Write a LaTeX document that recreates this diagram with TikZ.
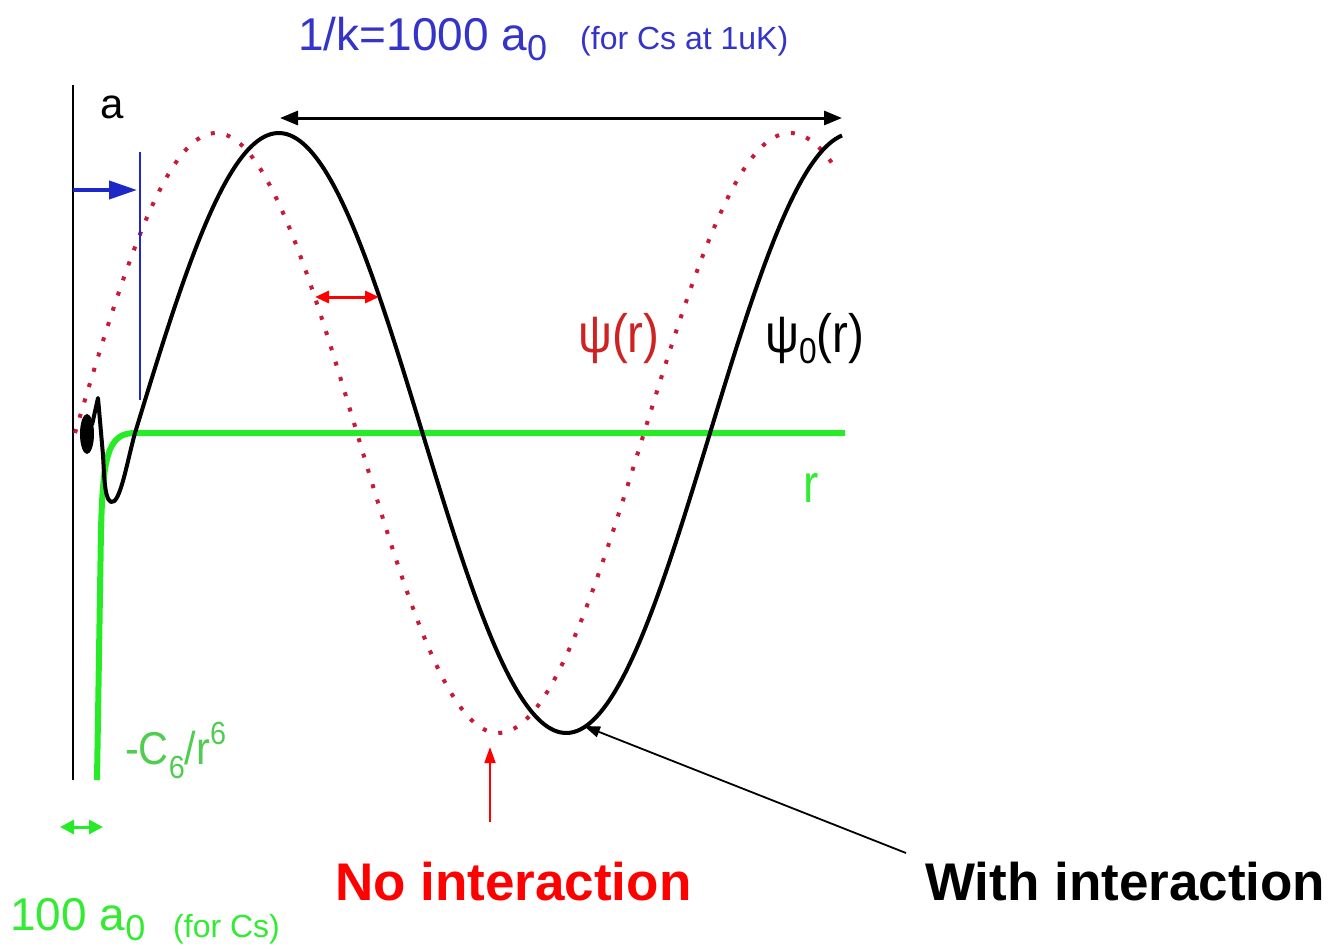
\documentclass[tikz,border=0pt]{standalone}
\usepackage{fontspec}
\setmainfont{Liberation Sans}
\usetikzlibrary{arrows.meta}
\definecolor{kblue}{RGB}{52,52,200}
\definecolor{lblue}{RGB}{30,40,200}
\definecolor{bgreen}{RGB}{40,235,40}
\definecolor{tgreen}{RGB}{50,235,50}
\definecolor{cgreen}{RGB}{80,205,80}
\definecolor{dred}{RGB}{200,25,55}
\definecolor{pred}{RGB}{205,35,35}
\tikzset{
  lbl/.style={inner sep=0pt, anchor=base west},
  psi0/.style={black, line width=4pt, line join=round},
  psidot/.style={dred, line width=4pt, dash pattern=on 4pt off 12pt},
  pot/.style={bgreen, line width=6pt, line join=round},
  dim/.style={line width=3pt, {Triangle[length=18pt,width=14pt]}-{Triangle[length=18pt,width=14pt]}},
  pointer/.style={line width=1.8pt, -{Triangle[length=16pt,width=11pt]}},
}
\newcommand{\fs}[1]{\fontsize{#1}{#1}\selectfont}
\begin{document}
\begin{tikzpicture}[x=1pt, y=-1pt]
\useasboundingbox (0,0) rectangle (1330,948);
% axis
\coordinate (axtop) at (73,85);
\coordinate (axbot) at (73,780);
\draw[black, line width=2.5pt] (axtop) -- (axbot);
% potential
\coordinate (potbot) at (97,780);
\coordinate (potend) at (845,433);
\draw[pot] (potbot) -- (101,530) .. controls (103,455) and (108,433) .. (135,433) -- (potend);
% red dotted psi (no interaction)
\draw[psidot] plot[domain=75:498, samples=160] (\x, {433-300*sin((\x-75)/564*360)})
  -- plot[domain=498:836, samples=130] (\x, {433-300*sin(270+(\x-498)/584*360)});
% black psi0 (with interaction)
\draw[psi0] plot[domain=135:842, samples=220] (\x, {433-300*sin((\x-135)/575*360)});
\draw[psi0] (135,433) .. controls (127,462) and (120,505) .. (111,502)
  .. controls (104,499) and (104,470) .. (103,455) -- (98,398) -- (92,425);
\fill[black] (87,434) ellipse (7pt and 20pt);
% blue scattering length
\coordinate (atop) at (140,152);
\coordinate (abot) at (140,400);
\draw[lblue, line width=2.5pt] (atop) -- (abot);
\coordinate (aleft) at (73,190);
\coordinate (aright) at (137,190);
\draw[lblue, line width=4pt, -{Triangle[length=28pt,width=18pt]}] (aleft) -- (aright);
\node[lbl, font=\fs{42}] (alabel) at (100,118) {a};
% top dimension arrow
\coordinate (pk1) at (280,118);
\coordinate (pk2) at (842,118);
\draw[dim, black] (pk1) -- (pk2);
\node[lbl, text=kblue, font=\fs{46}] (klabel) at (298,50) {1/k=1000 a\raisebox{-10pt}{\fs{36}0}};
\node[lbl, text=kblue, font=\fs{32}] (kcs) at (580,49) {(for Cs at 1uK)};
% red phase shift arrow
\coordinate (sh1) at (315,297);
\coordinate (sh2) at (379,297);
\draw[red, line width=3pt, {Triangle[length=14pt,width=12pt]}-{Triangle[length=14pt,width=12pt]}] (sh1) -- (sh2);
% curve labels
\node[lbl, text=pred, font=\fs{54}] (psil) at (578,352) {\scalebox{0.88}[1]{ψ(r)}};
\node[lbl, text=black, font=\fs{54}] (psi0l) at (765,352) {\scalebox{0.88}[1]{ψ\raisebox{-11pt}{\fs{36}0}(r)}};
\node[lbl, text=tgreen, font=\fs{54}] (rl) at (803,502) {\scalebox{0.85}[1]{r}};
\node[lbl, text=cgreen, font=\fs{46}] (c6l) at (125,764) {\scalebox{0.9}[1]{-C\raisebox{-14pt}{\fs{32}6}/r\raisebox{20pt}{\fs{32}6}}};
% range of potential
\coordinate (g1) at (60,827);
\coordinate (g2) at (103,827);
\draw[bgreen, line width=3pt, {Triangle[length=14pt,width=14pt]}-{Triangle[length=14pt,width=14pt]}] (g1) -- (g2);
\node[lbl, text=tgreen, font=\fs{46}] (hund) at (10,930) {100 a\raisebox{-10pt}{\fs{36}0}};
\node[lbl, text=tgreen, font=\fs{32}] (hundcs) at (173,937) {(for Cs)};
% bottom labels
\node[lbl, text=red, font=\bfseries\fs{53}] (noint) at (335,900) {No interaction};
\node[lbl, text=black, font=\bfseries\fs{53}] (withint) at (925,900) {With interaction};
\coordinate (redmin) at (490,747);
\coordinate (redfoot) at (490,822);
\draw[pointer, red] (redfoot) -- (redmin);
\coordinate (blkmin) at (584,726);
\coordinate (blkfoot) at (906,853);
\draw[pointer, black] (blkfoot) -- (blkmin);
\end{tikzpicture}
\end{document}
